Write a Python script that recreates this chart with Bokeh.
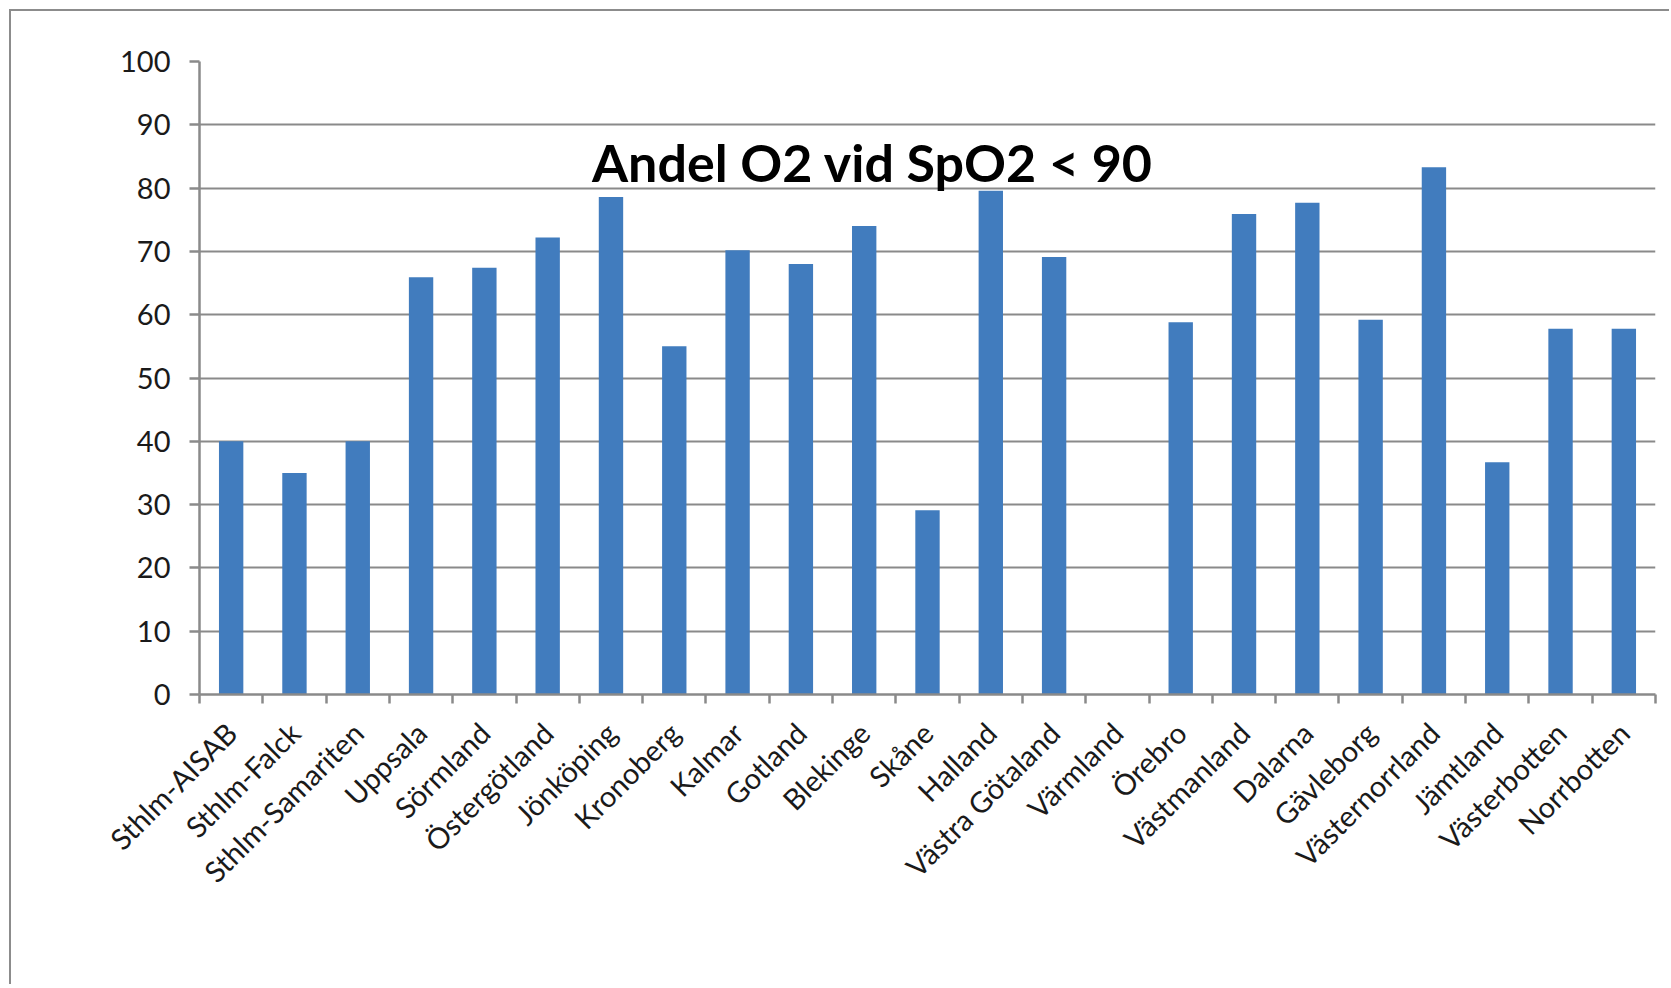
import math
from bokeh.plotting import figure
from bokeh.models import Range1d, FixedTicker, Label, ColumnDataSource
from bokeh.embed import file_html
from bokeh.resources import INLINE

categories = ["Sthlm-AISAB", "Sthlm-Falck", "Sthlm-Samariten", "Uppsala", "Sörmland",
              "Östergötland", "Jönköping", "Kronoberg", "Kalmar", "Gotland", "Blekinge",
              "Skåne", "Halland", "Västra Götaland", "Värmland", "Örebro", "Västmanland",
              "Dalarna", "Gävleborg", "Västernorrland", "Jämtland", "Västerbotten", "Norrbotten"]
values = [40.0, 35.0, 40.0, 65.9, 67.4, 72.2, 78.6, 55.0, 70.2, 68.0, 74.0,
          29.1, 79.6, 69.1, 0.0, 58.8, 75.9, 77.7, 59.2, 83.3, 36.7, 57.8, 57.8]
y_ticks = [0, 10, 20, 30, 40, 50, 60, 70, 80, 90, 100]
title_text = "Andel O2 vid SpO2 < 90"

n = len(categories)
centers = [i + 0.5 for i in range(n)]
boundaries = list(range(n + 1))

GRAY = "#8a8a8a"
BLUE = "#417cbe"
FONT = "Lato"

p = figure(width=1660, height=975, x_range=Range1d(0, n), y_range=Range1d(0, 100),
           output_backend="svg", toolbar_location=None,
           min_border_left=188, min_border_right=16, min_border_top=50, min_border_bottom=292)
p.outline_line_color = None
p.background_fill_color = "white"
p.border_fill_color = "white"
p.styles = {"margin-left": "9px", "margin-top": "9px",
            "border-left": "2px solid #8c8c8c", "border-top": "2px solid #8c8c8c"}

src = ColumnDataSource(dict(x=centers, top=values, name=categories))
p.vbar(x="x", top="top", width=0.385, source=src, fill_color=BLUE, line_color=None)

# y axis
p.yaxis.ticker = FixedTicker(ticks=y_ticks)
p.yaxis.axis_line_color = GRAY
p.yaxis.axis_line_width = 2.5
p.yaxis.major_tick_line_color = GRAY
p.yaxis.major_tick_line_width = 2.5
p.yaxis.major_tick_out = 10
p.yaxis.major_tick_in = 0
p.yaxis.minor_tick_line_color = None
p.yaxis.major_label_text_font = FONT
p.yaxis.major_label_text_font_size = "29px"
p.yaxis.major_label_text_color = "#1a1a1a"
p.yaxis.major_label_standoff = 19

# x axis
p.xaxis.ticker = FixedTicker(ticks=centers, minor_ticks=boundaries)
p.xaxis.major_label_overrides = {c: name for c, name in zip(centers, categories)}
p.xaxis.axis_line_color = GRAY
p.xaxis.axis_line_width = 2.5
p.xaxis.major_tick_out = 0
p.xaxis.major_tick_in = 0
p.xaxis.major_tick_line_color = None
p.xaxis.minor_tick_line_color = GRAY
p.xaxis.minor_tick_line_width = 2.5
p.xaxis.minor_tick_out = 9
p.xaxis.minor_tick_in = 0
p.xaxis.major_label_orientation = math.pi / 4
p.xaxis.major_label_text_font = FONT
p.xaxis.major_label_text_font_size = "29px"
p.xaxis.major_label_text_color = "#1a1a1a"
p.xaxis.major_label_standoff = 24

# grid
p.ygrid.ticker = FixedTicker(ticks=y_ticks)
p.ygrid.grid_line_color = GRAY
p.ygrid.grid_line_width = 2
p.xgrid.visible = False

title = Label(x=6.2, y=84.2, text=title_text, text_font=FONT, text_font_style="bold",
              text_font_size="52px", text_color="black", text_align="left",
              text_baseline="alphabetic")
p.add_layout(title)

open("out.html", "w").write(file_html(p, INLINE))
